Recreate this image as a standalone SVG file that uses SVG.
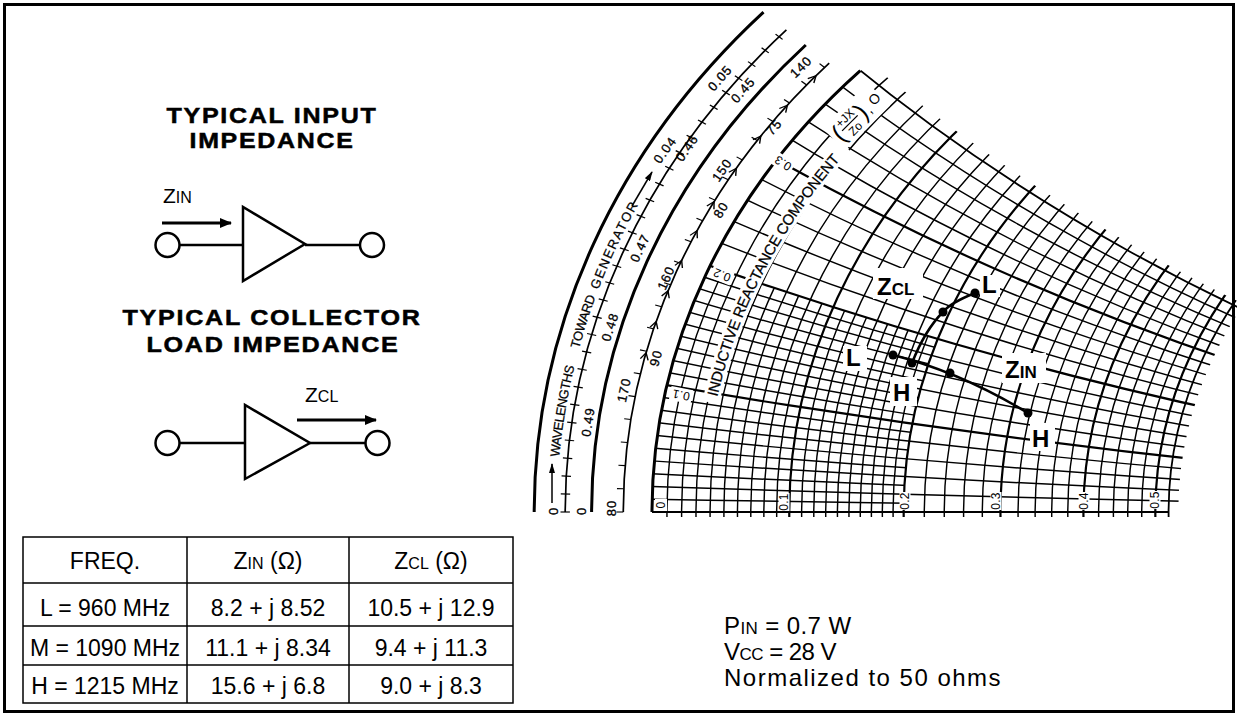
<svg xmlns="http://www.w3.org/2000/svg" width="1237" height="716" viewBox="0 0 1237 716">
<style>
text{font-family:"Liberation Sans",Arial,sans-serif;fill:#000}
.ttl{font-size:22px;font-weight:bold;letter-spacing:1.5px;text-anchor:middle;stroke:#000;stroke-width:0.5px}
.lbl{font-size:21px}
.sub{font-size:16px}
.tb{font-size:23px;text-anchor:middle}
.tbs{font-size:16px}
.rt{font-size:24px;letter-spacing:0.4px}
.rts{font-size:17px}
.ch{font-size:24px;font-weight:bold}
.chs{font-size:17px;font-weight:bold}
.sc{font-size:13px;letter-spacing:1px;text-anchor:middle;dominant-baseline:central;stroke:#000;stroke-width:0.3px}
.rl{font-size:12px;letter-spacing:0.3px;text-anchor:middle;dominant-baseline:central}
.arc{font-size:13px;stroke:#000;stroke-width:0.25px}
.arcb{font-size:15px;stroke:#000;stroke-width:0.25px}
#grid circle,#grid path{vector-effect:non-scaling-stroke;fill:none}
.n{stroke:#000;stroke-width:1.45}
.b{stroke:#000;stroke-width:2.2}
.bd{stroke:#000;stroke-width:1.8}
.ln{fill:none;stroke:#000}
.w{fill:#fff;stroke:none}
</style>
<defs>
<clipPath id="cDisk"><circle cx="0" cy="0" r="1"/></clipPath>
<clipPath id="cUpper"><rect x="-1.1" y="-0.008" width="2.2" height="1.2"/></clipPath>
<clipPath id="cOutR"><path clip-rule="evenodd" d="M-2,-2H3V3H-2Z M-0.30294,0 A0.65147,0.65147 0 1 0 1,0 A0.65147,0.65147 0 1 0 -0.30294,0Z"/></clipPath>
<clipPath id="cOutX"><path clip-rule="evenodd" d="M-3,-3H6V6H-3Z M-1.43902,2.43902 A2.43902,2.43902 0 1 0 3.43902,2.43902 A2.43902,2.43902 0 1 0 -1.43902,2.43902Z"/></clipPath>
<clipPath id="cX02"><path clip-rule="evenodd" d="M-5,-1H7V11H-5Z M-4,5 A5,5 0 1 0 6,5 A5,5 0 1 0 -4,5Z"/></clipPath>
<clipPath id="cR02"><path clip-rule="evenodd" d="M-2,-2H3V3H-2Z M-0.66667,0 A0.83333,0.83333 0 1 0 1,0 A0.83333,0.83333 0 1 0 -0.66667,0Z"/></clipPath>
<marker id="ah" viewBox="0 0 12 10" refX="11" refY="5" markerWidth="12" markerHeight="10" markerUnits="userSpaceOnUse" orient="auto"><path d="M0,0 L12,5 L0,10 Z"/></marker>
<marker id="ahs" viewBox="0 0 10 6" refX="9" refY="3" markerWidth="10" markerHeight="6" markerUnits="userSpaceOnUse" orient="auto"><path d="M0,0 L10,3 L0,6 Z"/></marker>
<line id="wt" x1="-846.5" y1="0" x2="-837.1" y2="0" stroke="#000" stroke-width="1.4"/>
<line id="at" x1="-783.7" y1="0" x2="-790.5" y2="0" stroke="#000" stroke-width="1.3"/>
<path id="chev" d="M-787.7,4.5 L-783.7,-3.5 L-779.7,4.5" fill="none" stroke="#000" stroke-width="1.4"/>
<path id="wlp" d="M556.9,512 A850.1,720.6 0 0 1 755.8,48.8"/>
<path id="irp" d="M706.8,460.1 A702.9,595.8 0 0 1 884.7,113.3"/>
</defs>

<rect x="4.5" y="4.5" width="1229" height="707" fill="#fff" stroke="#000" stroke-width="3"/>

<g id="title-input">
<text class="ttl" x="272" y="123" textLength="211" lengthAdjust="spacingAndGlyphs">TYPICAL INPUT</text>
<text class="ttl" x="272" y="148" textLength="165" lengthAdjust="spacingAndGlyphs">IMPEDANCE</text>
</g>
<g id="amp-input" class="ln" stroke-width="2.5">
<circle cx="167.5" cy="245" r="12"/>
<line x1="179.5" y1="245" x2="243" y2="245"/>
<path d="M243,207 L243,281 L305,244 Z"/>
<line x1="305" y1="245" x2="360" y2="245"/>
<circle cx="372" cy="245" r="12"/>
<line x1="162" y1="223" x2="231" y2="223" stroke-width="3" marker-end="url(#ah)"/>
</g>
<text class="lbl" x="163" y="203">Z<tspan class="sub">IN</tspan></text>

<g id="title-collector">
<text class="ttl" x="272" y="325" textLength="299" lengthAdjust="spacingAndGlyphs">TYPICAL COLLECTOR</text>
<text class="ttl" x="273" y="352" textLength="253" lengthAdjust="spacingAndGlyphs">LOAD IMPEDANCE</text>
</g>
<g id="amp-collector" class="ln" stroke-width="2.5">
<circle cx="167.5" cy="443" r="12"/>
<line x1="179.5" y1="443" x2="245" y2="443"/>
<path d="M245,405 L245,479 L310,443 Z"/>
<line x1="310" y1="443" x2="365.5" y2="443"/>
<circle cx="377.5" cy="443" r="12"/>
<line x1="297" y1="420" x2="376" y2="420" stroke-width="3" marker-end="url(#ah)"/>
</g>
<text class="lbl" x="305" y="402">Z<tspan class="sub">CL</tspan></text>

<g id="table">
<rect x="23" y="537" width="490" height="166" fill="none" stroke="#000" stroke-width="1.5"/>
<g stroke="#000" stroke-width="1.5">
<line x1="187" y1="537" x2="187" y2="703"/>
<line x1="349" y1="537" x2="349" y2="703"/>
<line x1="23" y1="583" x2="513" y2="583"/>
<line x1="23" y1="626" x2="513" y2="626"/>
<line x1="23" y1="665" x2="513" y2="665"/>
</g>
<text class="tb" x="105" y="569">FREQ.</text>
<text class="tb" x="268" y="569">Z<tspan class="tbs">IN</tspan> (Ω)</text>
<text class="tb" x="431" y="569">Z<tspan class="tbs">CL</tspan> (Ω)</text>
<text class="tb" x="105" y="616">L = 960 MHz</text>
<text class="tb" x="268" y="616">8.2 + j 8.52</text>
<text class="tb" x="431" y="616">10.5 + j 12.9</text>
<text class="tb" x="105" y="656">M = 1090 MHz</text>
<text class="tb" x="268" y="656">11.1 + j 8.34</text>
<text class="tb" x="431" y="656">9.4 + j 11.3</text>
<text class="tb" x="105" y="694">H = 1215 MHz</text>
<text class="tb" x="268" y="694">15.6 + j 6.8</text>
<text class="tb" x="431" y="694">9.0 + j 8.3</text>
</g>

<g id="conditions">
<text class="rt" x="724" y="634">P<tspan class="rts">IN</tspan> = 0.7 W</text>
<text class="rt" x="724" y="660" textLength="113">V<tspan class="rts">CC</tspan> = 28 V</text>
<text class="rt" x="724" y="686" textLength="277">Normalized to 50 ohms</text>
</g>

<g id="grid" transform="matrix(755,0,0,-640,1407,512)">
<g clip-path="url(#cDisk)"><g clip-path="url(#cUpper)"><g clip-path="url(#cOutR)"><g clip-path="url(#cOutX)">
<g class="n">
<circle cx="0.019608" cy="0" r="0.980392"/><circle cx="0.038462" cy="0" r="0.961538"/><circle cx="0.056604" cy="0" r="0.943396"/><circle cx="0.074074" cy="0" r="0.925926"/>
<circle cx="0.107143" cy="0" r="0.892857"/><circle cx="0.122807" cy="0" r="0.877193"/><circle cx="0.137931" cy="0" r="0.862069"/><circle cx="0.152542" cy="0" r="0.847458"/>
<circle cx="0.180328" cy="0" r="0.819672"/><circle cx="0.193548" cy="0" r="0.806452"/><circle cx="0.206349" cy="0" r="0.793651"/><circle cx="0.21875" cy="0" r="0.78125"/>
<circle cx="0.242424" cy="0" r="0.757576"/><circle cx="0.253731" cy="0" r="0.746269"/><circle cx="0.264706" cy="0" r="0.735294"/><circle cx="0.275362" cy="0" r="0.724638"/>
<circle cx="0.295775" cy="0" r="0.704225"/><circle cx="0.305556" cy="0" r="0.694444"/><circle cx="0.315068" cy="0" r="0.684932"/><circle cx="0.324324" cy="0" r="0.675676"/>
<circle cx="1" cy="50" r="50"/><circle cx="1" cy="25" r="25"/><circle cx="1" cy="16.6667" r="16.6667"/><circle cx="1" cy="12.5" r="12.5"/>
<circle cx="1" cy="8.33333" r="8.33333"/><circle cx="1" cy="7.14286" r="7.14286"/><circle cx="1" cy="6.25" r="6.25"/><circle cx="1" cy="5.55556" r="5.55556"/>
<circle cx="1" cy="4.54545" r="4.54545"/><circle cx="1" cy="4.16667" r="4.16667"/><circle cx="1" cy="3.84615" r="3.84615"/><circle cx="1" cy="3.57143" r="3.57143"/>
<circle cx="1" cy="3.125" r="3.125"/><circle cx="1" cy="2.94118" r="2.94118"/><circle cx="1" cy="2.77778" r="2.77778"/><circle cx="1" cy="2.63158" r="2.63158"/>
<g clip-path="url(#cX02)">
<circle cx="0.009901" cy="0" r="0.990099"/><circle cx="0.029126" cy="0" r="0.970874"/><circle cx="0.047619" cy="0" r="0.952381"/><circle cx="0.065421" cy="0" r="0.934579"/><circle cx="0.082569" cy="0" r="0.917431"/>
<circle cx="0.099099" cy="0" r="0.900901"/><circle cx="0.115044" cy="0" r="0.884956"/><circle cx="0.130435" cy="0" r="0.869565"/><circle cx="0.145299" cy="0" r="0.854701"/><circle cx="0.159664" cy="0" r="0.840336"/>
</g>
<g clip-path="url(#cR02)">
<circle cx="1" cy="100" r="100"/><circle cx="1" cy="33.3333" r="33.3333"/><circle cx="1" cy="20" r="20"/><circle cx="1" cy="14.2857" r="14.2857"/><circle cx="1" cy="11.1111" r="11.1111"/>
<circle cx="1" cy="9.09091" r="9.09091"/><circle cx="1" cy="7.69231" r="7.69231"/><circle cx="1" cy="6.66667" r="6.66667"/><circle cx="1" cy="5.88235" r="5.88235"/><circle cx="1" cy="5.26316" r="5.26316"/>
</g>
</g>
<g class="b">
<circle cx="0.090909" cy="0" r="0.909091"/><circle cx="0.166667" cy="0" r="0.833333"/><circle cx="0.230769" cy="0" r="0.769231"/><circle cx="0.285714" cy="0" r="0.714286"/><circle cx="0.333333" cy="0" r="0.666667"/>
<circle cx="1" cy="10" r="10"/><circle cx="1" cy="5" r="5"/><circle cx="1" cy="3.33333" r="3.33333"/>
</g>
<g class="bd">
<circle cx="0.342105" cy="0" r="0.657895"/>
<circle cx="1" cy="2.5" r="2.5"/>
<path d="M-1,0 H-0.3158"/>
</g>
</g></g></g></g>
</g>

<g id="scale-arcs" class="ln">
<path d="M534.2,512 A872.8,739.8 0 0 1 763.5,12.2" stroke-width="3"/>
<path d="M565.2,512 A841.8,713.6 0 0 1 786.4,29.9" stroke-width="1.7"/>
<path d="M591.6,512 A815.4,691.2 0 0 1 805.8,45" stroke-width="3"/>
<path d="M623.3,512 A783.7,664.3 0 0 1 829.2,63.2" stroke-width="1.7"/>
<path d="M652,512 A755,640 0 0 1 860.3,70.6" stroke-width="3"/>
</g>

<g id="scale-ticks" transform="translate(1407,512) scale(1,0.84768)">
<use href="#wt" transform="rotate(0)"/><use href="#wt" transform="rotate(1.44)"/><use href="#wt" transform="rotate(2.88)"/><use href="#wt" transform="rotate(4.32)"/><use href="#wt" transform="rotate(5.76)"/><use href="#wt" transform="rotate(7.2)"/>
<use href="#wt" transform="rotate(8.64)"/><use href="#wt" transform="rotate(10.08)"/><use href="#wt" transform="rotate(11.52)"/><use href="#wt" transform="rotate(12.96)"/><use href="#wt" transform="rotate(14.4)"/><use href="#wt" transform="rotate(15.84)"/>
<use href="#wt" transform="rotate(17.28)"/><use href="#wt" transform="rotate(18.72)"/><use href="#wt" transform="rotate(20.16)"/><use href="#wt" transform="rotate(21.6)"/><use href="#wt" transform="rotate(23.04)"/><use href="#wt" transform="rotate(24.48)"/>
<use href="#wt" transform="rotate(25.92)"/><use href="#wt" transform="rotate(27.36)"/><use href="#wt" transform="rotate(28.8)"/><use href="#wt" transform="rotate(30.24)"/><use href="#wt" transform="rotate(31.68)"/><use href="#wt" transform="rotate(33.12)"/>
<use href="#wt" transform="rotate(34.56)"/><use href="#wt" transform="rotate(36)"/><use href="#wt" transform="rotate(37.44)"/><use href="#wt" transform="rotate(38.88)"/><use href="#wt" transform="rotate(40.32)"/><use href="#wt" transform="rotate(41.76)"/>
<use href="#at" transform="rotate(0)"/><use href="#at" transform="rotate(2)"/><use href="#at" transform="rotate(4)"/><use href="#at" transform="rotate(6)"/><use href="#at" transform="rotate(8)"/><use href="#at" transform="rotate(10)"/>
<use href="#at" transform="rotate(12)"/><use href="#at" transform="rotate(14)"/><use href="#at" transform="rotate(16)"/><use href="#at" transform="rotate(18)"/><use href="#at" transform="rotate(20)"/><use href="#at" transform="rotate(22)"/>
<use href="#at" transform="rotate(24)"/><use href="#at" transform="rotate(26)"/><use href="#at" transform="rotate(28)"/><use href="#at" transform="rotate(30)"/><use href="#at" transform="rotate(32)"/><use href="#at" transform="rotate(34)"/>
<use href="#at" transform="rotate(36)"/><use href="#at" transform="rotate(38)"/><use href="#at" transform="rotate(40)"/><use href="#at" transform="rotate(42)"/>
<use href="#chev" transform="rotate(13.6)"/><use href="#chev" transform="rotate(16.4)"/><use href="#chev" transform="rotate(19.2)"/><use href="#chev" transform="rotate(22)"/><use href="#chev" transform="rotate(24.8)"/>
<use href="#chev" transform="rotate(27.6)"/><use href="#chev" transform="rotate(30.9)"/><use href="#chev" transform="rotate(34.2)"/><use href="#chev" transform="rotate(37.5)"/><use href="#chev" transform="rotate(40.8)"/>
</g>

<g id="scale-labels">
<text class="sc" transform="translate(553,511) rotate(-90)">0</text>
<text class="sc" transform="translate(581,511) rotate(-90)">0</text>
<text class="sc" transform="translate(611,508) rotate(-90)">80</text>
<text class="sc" transform="translate(588,422) rotate(-81.3)">0.49</text>
<text class="sc" transform="translate(610,327) rotate(-72.1)">0.48</text>
<text class="sc" transform="translate(640,248) rotate(-64.4)">0.47</text>
<text class="sc" transform="translate(687,148) rotate(-54.9)">0.46</text>
<text class="sc" transform="translate(743,90) rotate(-48.5)">0.45</text>
<text class="sc" transform="translate(665,150) rotate(-54.2)">0.04</text>
<text class="sc" transform="translate(720,78) rotate(-48.7)">0.05</text>
<text class="sc" transform="translate(624,390) rotate(-77.8)">170</text>
<text class="sc" transform="translate(666,278) rotate(-66.3)">160</text>
<text class="sc" transform="translate(722,170) rotate(-55.2)">150</text>
<text class="sc" transform="translate(801,67) rotate(-44.4)">140</text>
<text class="sc" transform="translate(656,358) rotate(-74.1)">90</text>
<text class="sc" transform="translate(721,210) rotate(-58.5)">80</text>
<text class="sc" transform="translate(774,127) rotate(-49.7)">75</text>
<text class="arc"><textPath href="#wlp" startOffset="55" textLength="92" lengthAdjust="spacing">WAVELENGTHS</textPath></text>
<text class="arc"><textPath href="#wlp" startOffset="165" textLength="55" lengthAdjust="spacing">TOWARD</textPath></text>
<text class="arc"><textPath href="#wlp" startOffset="227" textLength="94" lengthAdjust="spacing">GENERATOR</textPath></text>
<line x1="632" y1="206" x2="652" y2="172" class="ln" stroke-width="1.5" marker-end="url(#ahs)"/>
<line x1="552" y1="503" x2="552" y2="464" class="ln" stroke-width="1.5" marker-end="url(#ahs)"/>
</g>

<g id="chart-annotations">
<path d="M710.7,402.6 A708.2,600.3 0 0 1 845.2,146.6" fill="none" stroke="#fff" stroke-width="17"/>
<text class="arcb"><textPath href="#irp" startOffset="64" textLength="270" lengthAdjust="spacing">INDUCTIVE REACTANCE COMPONENT</textPath></text>
<g transform="translate(852,121) rotate(-45)">
<rect x="-26" y="-16" width="64" height="32" class="w"/>
<text x="-23" y="8" font-size="25">(</text>
<text x="-3" y="-3" font-size="12" text-anchor="middle">+JX</text>
<line x1="-14" y1="0" x2="8" y2="0" stroke="#000" stroke-width="1.3"/>
<text x="-3" y="12" font-size="12" text-anchor="middle">Zo</text>
<text x="9" y="8" font-size="25">)</text>
<text x="18" y="8" font-size="14">,</text>
<text x="26" y="5" font-size="14">O</text>
</g>
<g transform="translate(681,395) rotate(191)"><rect x="-11" y="-7" width="22" height="14" class="w"/><text class="rl">0.1</text></g>
<g transform="translate(722,275) rotate(202)"><rect x="-11" y="-7" width="22" height="14" class="w"/><text class="rl">0.2</text></g>
<g transform="translate(783,163) rotate(213)"><rect x="-11" y="-7" width="22" height="14" class="w"/><text class="rl">0.3</text></g>
<g transform="translate(661,505) rotate(-90)"><rect x="-6" y="-6" width="12" height="12" class="w"/><text class="rl">0</text></g>
<g transform="translate(784,502) rotate(-90)"><rect x="-9" y="-5.5" width="18" height="11" class="w"/><text class="rl">0.1</text></g>
<g transform="translate(905,501) rotate(-90)"><rect x="-9" y="-5.5" width="18" height="11" class="w"/><text class="rl">0.2</text></g>
<g transform="translate(996,501) rotate(-90)"><rect x="-9" y="-5.5" width="18" height="11" class="w"/><text class="rl">0.3</text></g>
<g transform="translate(1084,501) rotate(-90)"><rect x="-9" y="-5.5" width="18" height="11" class="w"/><text class="rl">0.4</text></g>
<g transform="translate(1155,500) rotate(-90)"><rect x="-9" y="-5.5" width="18" height="11" class="w"/><text class="rl">0.5</text></g>
</g>

<g id="label-boxes">
<rect x="873" y="268" width="50" height="31" class="w"/>
<rect x="980" y="275" width="20" height="22" class="w"/>
<rect x="843" y="346" width="24" height="25" class="w"/>
<rect x="890" y="377" width="27" height="29" class="w"/>
<rect x="1002" y="353" width="44" height="30" class="w"/>
<rect x="1030" y="423" width="25" height="28" class="w"/>
</g>

<g id="curve-zcl">
<path d="M975,293 Q950,303 943,312 Q925,330 912,363" fill="none" stroke="#000" stroke-width="2.5"/>
<circle cx="975" cy="293" r="4.5"/><circle cx="943" cy="312" r="4.5"/><circle cx="912" cy="363" r="4.5"/>
</g>
<g id="curve-zin">
<path d="M893,355 Q960,372 1028,413" fill="none" stroke="#000" stroke-width="2.5"/>
<circle cx="893" cy="355" r="4.5"/><circle cx="950" cy="373" r="4.5"/><circle cx="1028" cy="413" r="4.5"/>
</g>
<g id="chart-labels">
<text class="ch" x="877" y="295">Z<tspan class="chs">CL</tspan></text>
<text class="ch" x="982" y="293">L</text>
<text class="ch" x="846" y="366">L</text>
<text class="ch" x="893" y="401">H</text>
<text class="ch" x="1005" y="378">Z<tspan class="chs">IN</tspan></text>
<text class="ch" x="1032" y="447">H</text>
</g>
</svg>
